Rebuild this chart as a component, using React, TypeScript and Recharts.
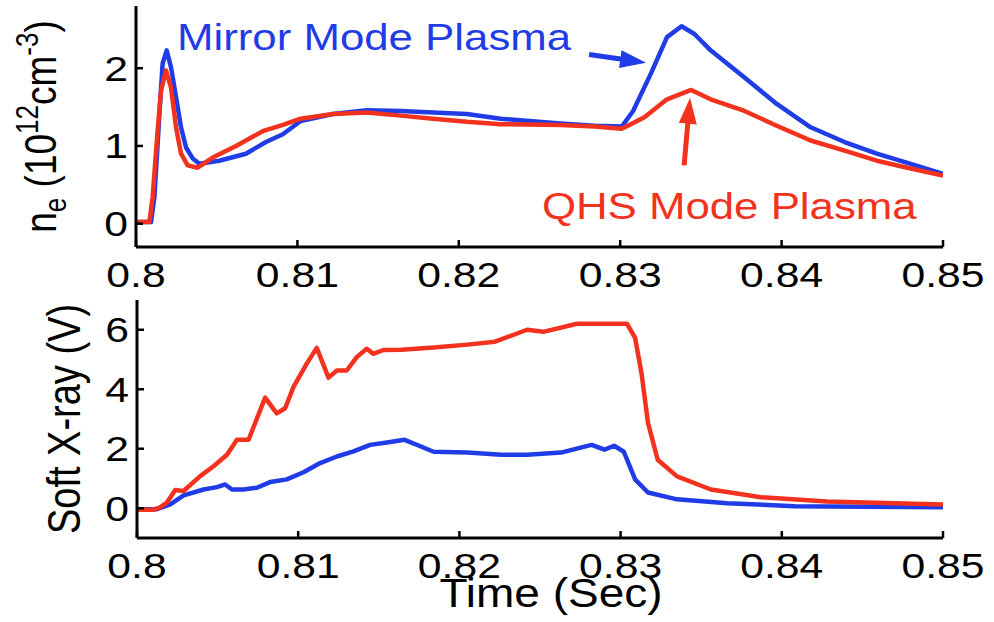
import React from "react";
import { LineChart, Line, XAxis, YAxis, ReferenceLine, ReferenceDot } from "recharts";

const FONT = "'Liberation Sans', Arial, Helvetica, sans-serif";
const BLUE = "#1f3ce6";
const RED = "#f2321e";

// time (s) ticks and value ticks
const timeTicks = [0.8, 0.81, 0.82, 0.83, 0.84, 0.85];
const neTicks = [0, 1, 2];
const sxrTicks = [0, 2, 4, 6];

// Electron density n_e (10^12 cm^-3): [time, value]
const neMirror: [number, number][] = [
  [0.8, 0.02], [0.80093, 0.02], [0.80114, 0.34], [0.80145, 1.41], [0.80165, 2.06], [0.8019, 2.23],
  [0.80217, 2.01], [0.80248, 1.63], [0.80279, 1.24], [0.8031, 0.98], [0.80351, 0.84], [0.80392, 0.77],
  [0.80516, 0.81], [0.80681, 0.9], [0.80805, 1.05], [0.8091, 1.15], [0.8102, 1.32],
  [0.8122, 1.41], [0.8143, 1.46], [0.8164, 1.45], [0.8184, 1.43], [0.8205, 1.41], [0.8226, 1.35],
  [0.8263, 1.29], [0.8284, 1.26], [0.8301, 1.25], [0.8308, 1.45], [0.8319, 1.93], [0.8329, 2.4],
  [0.8338, 2.54], [0.8346, 2.44], [0.8356, 2.23], [0.8377, 1.88], [0.8397, 1.54], [0.8418, 1.24],
  [0.8439, 1.05], [0.8459, 0.9], [0.848, 0.77], [0.85, 0.64],
];
const neQhs: [number, number][] = [
  [0.8, 0.02], [0.80083, 0.02], [0.80103, 0.34], [0.80134, 1.2], [0.80155, 1.71], [0.80186, 1.97],
  [0.80217, 1.75], [0.80248, 1.24], [0.80279, 0.9], [0.8032, 0.75], [0.80382, 0.72], [0.80475, 0.85],
  [0.8062, 1.0], [0.80785, 1.19], [0.8091, 1.27], [0.8102, 1.35],
  [0.8122, 1.41], [0.8143, 1.43], [0.8164, 1.39], [0.8184, 1.35], [0.8205, 1.31], [0.8226, 1.28],
  [0.8263, 1.27], [0.8284, 1.25], [0.8301, 1.22], [0.8315, 1.37], [0.8329, 1.6], [0.8344, 1.72],
  [0.8356, 1.6], [0.8377, 1.45], [0.8397, 1.26], [0.8418, 1.07], [0.8439, 0.94], [0.8459, 0.81],
  [0.848, 0.71], [0.85, 0.62],
];

// Soft X-ray (V): [time, value]
const sxrMirror: [number, number][] = [
  [0.8, -0.03], [0.80124, -0.03], [0.80207, 0.13], [0.80289, 0.43], [0.80413, 0.63], [0.80496, 0.71],
  [0.80547, 0.8], [0.80589, 0.63], [0.80661, 0.63], [0.80743, 0.69], [0.80826, 0.88], [0.80929, 0.97],
  [0.81033, 1.21], [0.81136, 1.52], [0.8124, 1.74], [0.81343, 1.91], [0.81446, 2.13], [0.8155, 2.21],
  [0.8166, 2.3], [0.8175, 2.1], [0.8184, 1.9], [0.8205, 1.87], [0.8226, 1.8], [0.8242, 1.8],
  [0.8263, 1.87], [0.8282, 2.13], [0.829, 1.97], [0.8296, 2.1], [0.8302, 1.9], [0.8309, 0.97],
  [0.8317, 0.53], [0.8335, 0.3], [0.8366, 0.17], [0.8408, 0.07], [0.85, 0.03],
];
const sxrQhs: [number, number][] = [
  [0.8, -0.05], [0.801, -0.05], [0.8014, 0.02], [0.80186, 0.19], [0.80237, 0.61], [0.80289, 0.58],
  [0.80392, 1.08], [0.80475, 1.41], [0.80558, 1.8], [0.8062, 2.3], [0.80692, 2.3], [0.80795, 3.72],
  [0.80867, 3.19], [0.80919, 3.36], [0.80971, 4.08], [0.81053, 4.86], [0.81115, 5.39], [0.81188, 4.39],
  [0.8124, 4.63], [0.81301, 4.63], [0.81363, 5.08], [0.81425, 5.36], [0.81466, 5.19], [0.81528, 5.32],
  [0.8164, 5.33], [0.8184, 5.4], [0.8205, 5.5], [0.8222, 5.6], [0.8242, 6.0], [0.8252, 5.93],
  [0.8273, 6.2], [0.8304, 6.2], [0.8309, 5.73], [0.8313, 4.53], [0.8317, 2.87], [0.8323, 1.63],
  [0.8335, 1.07], [0.8356, 0.63], [0.8387, 0.37], [0.8428, 0.23], [0.85, 0.13],
];

const toRows = (arr: [number, number][]) => arr.map(([t, v]) => ({ t, v }));

const StretchText = ({ x, y, sx = 1.22, size = 35, fill = "#000", anchor = "middle", children }: any) => (
  <g transform={`translate(${x},${y}) scale(${sx},1)`}>
    <text x={0} y={0} textAnchor={anchor} fontSize={size} fill={fill} fontFamily={FONT}>
      {children}
    </text>
  </g>
);

const BottomTick = (p: any) => (
  <g>
    <line x1={p.x} y1={p.y} x2={p.x} y2={p.y - 7} stroke="#000" strokeWidth={2.5} />
    <StretchText x={p.x} y={p.y + 40}>{String(p.payload.value)}</StretchText>
  </g>
);
const TopTick = (p: any) => (
  <line x1={p.x} y1={p.y} x2={p.x} y2={p.y + 7} stroke="#000" strokeWidth={2.5} />
);
const LeftTick = (p: any) => (
  <g>
    <line x1={p.x} y1={p.y} x2={p.x + 7} y2={p.y} stroke="#000" strokeWidth={2.5} />
    <StretchText x={p.x - 8} y={p.y + 12.5} anchor="end">{String(p.payload.value)}</StretchText>
  </g>
);
const RightTick = (p: any) => (
  <line x1={p.x} y1={p.y} x2={p.x - 7} y2={p.y} stroke="#000" strokeWidth={2.5} />
);

const Arrow = (p: any) => {
  const { x1, y1, x2, y2, stroke } = p;
  const dx = x2 - x1;
  const dy = y2 - y1;
  const len = Math.hypot(dx, dy) || 1;
  const ux = dx / len;
  const uy = dy / len;
  const hl = 26;
  const hw = 9;
  const bx = x2 - ux * hl;
  const by = y2 - uy * hl;
  const px = -uy;
  const py = ux;
  return (
    <g>
      <line x1={x1} y1={y1} x2={bx + ux * 2} y2={by + uy * 2} stroke={stroke} strokeWidth={5} />
      <polygon
        points={`${x2},${y2} ${bx + px * hw},${by + py * hw} ${bx - px * hw},${by - py * hw}`}
        fill={stroke}
      />
    </g>
  );
};

const axisLine = { stroke: "#000", strokeWidth: 3 };

const NeLabel = (props: any) => {
  const vb = props.viewBox || { x: 0, y: 6, width: 136, height: 241 };
  const cx = vb.x + 56;
  const cy = vb.y + vb.height / 2;
  return (
    <g transform={`translate(${cx},${cy}) scale(1.2,1) rotate(-90)`}>
      <text x={0} y={0} textAnchor="middle" fontSize={37} fontFamily={FONT} fill="#000">
        <tspan>n</tspan>
        <tspan fontSize={26} dy={8}>e</tspan>
        <tspan dy={-8}> (10</tspan>
        <tspan fontSize={26} dy={-15}>12</tspan>
        <tspan dy={15}>cm</tspan>
        <tspan fontSize={26} dy={-15}>-3</tspan>
        <tspan dy={15}>)</tspan>
      </text>
    </g>
  );
};

const SxrLabel = (props: any) => {
  const vb = props.viewBox || { x: 0, y: 10, width: 137, height: 238 };
  const cx = vb.x + 80;
  const cy = vb.y + vb.height / 2;
  return (
    <g transform={`translate(${cx},${cy}) scale(1.2,1) rotate(-90)`}>
      <text x={0} y={0} textAnchor="middle" fontSize={38} fontFamily={FONT} fill="#000">
        Soft X-ray (V)
      </text>
    </g>
  );
};

const TimeLabel = (props: any) => {
  const vb = props.viewBox || { x: 137, y: 248, width: 806, height: 84 };
  return (
    <StretchText x={vb.x + vb.width / 2 + 11} y={vb.y + 69} sx={1.15} size={40}>
      Time (Sec)
    </StretchText>
  );
};

export default function App() {
  return (
    <div style={{ position: "absolute", left: 0, top: 0, width: 994, height: 622, background: "#fff" }}>
      <div style={{ position: "absolute", left: 0, top: 0 }}>
        <LineChart width={994} height={290} margin={{ top: 6, right: 51, bottom: 0, left: 0 }}>
          <XAxis
            dataKey="t"
            type="number"
            domain={[0.8, 0.85]}
            ticks={timeTicks}
            allowDataOverflow
            interval={0}
            height={43}
            tickSize={0}
            tickMargin={0}
            axisLine={axisLine}
            tickLine={false}
            tick={(p: any) => <BottomTick {...p} />}
          />
          <XAxis
            xAxisId="top"
            orientation="top"
            dataKey="t"
            type="number"
            domain={[0.8, 0.85]}
            ticks={timeTicks}
            allowDataOverflow
            interval={0}
            height={0}
            tickSize={0}
            tickMargin={0}
            axisLine={axisLine}
            tickLine={false}
            tick={(p: any) => <TopTick {...p} />}
          />
          <YAxis
            type="number"
            domain={[-0.3, 2.8]}
            ticks={neTicks}
            allowDataOverflow
            interval={0}
            width={136}
            tickSize={0}
            tickMargin={0}
            axisLine={axisLine}
            tickLine={false}
            tick={(p: any) => <LeftTick {...p} />}
            label={{ content: (p: any) => <NeLabel {...p} /> }}
          />
          <YAxis
            yAxisId="right"
            orientation="right"
            type="number"
            domain={[-0.3, 2.8]}
            ticks={neTicks}
            allowDataOverflow
            interval={0}
            width={0}
            tickSize={0}
            tickMargin={0}
            axisLine={axisLine}
            tickLine={false}
            tick={(p: any) => <RightTick {...p} />}
          />
          <Line data={toRows(neMirror)} dataKey="v" stroke={BLUE} strokeWidth={4.5} strokeLinejoin="round" dot={false} isAnimationActive={false} />
          <Line data={toRows(neQhs)} dataKey="v" stroke={RED} strokeWidth={4.5} strokeLinejoin="round" dot={false} isAnimationActive={false} />
          <ReferenceLine
            segment={[{ x: 0.82807, y: 2.175 }, { x: 0.8316, y: 2.07 }]}
            stroke={BLUE}
            ifOverflow="visible"
            shape={(p: any) => <Arrow {...p} stroke={BLUE} />}
          />
          <ReferenceLine
            segment={[{ x: 0.83396, y: 0.75 }, { x: 0.83433, y: 1.62 }]}
            stroke={RED}
            ifOverflow="visible"
            shape={(p: any) => <Arrow {...p} stroke={RED} />}
          />
          <ReferenceDot
            x={0.80254}
            y={2.24}
            ifOverflow="visible"
            shape={(p: any) => (
              <StretchText x={p.cx} y={p.cy} anchor="start" size={36.5} sx={1.2} fill={BLUE}>
                Mirror Mode Plasma
              </StretchText>
            )}
          />
          <ReferenceDot
            x={0.82515}
            y={0.064}
            ifOverflow="visible"
            shape={(p: any) => (
              <StretchText x={p.cx} y={p.cy} anchor="start" size={36.5} sx={1.2} fill={RED}>
                QHS Mode Plasma
              </StretchText>
            )}
          />
        </LineChart>
      </div>
      <div style={{ position: "absolute", left: 0, top: 290 }}>
        <LineChart width={994} height={332} margin={{ top: 10, right: 51, bottom: 0, left: 0 }}>
          <XAxis
            dataKey="t"
            type="number"
            domain={[0.8, 0.85]}
            ticks={timeTicks}
            allowDataOverflow
            interval={0}
            height={84}
            tickSize={0}
            tickMargin={0}
            axisLine={axisLine}
            tickLine={false}
            tick={(p: any) => <BottomTick {...p} />}
            label={{ content: (p: any) => <TimeLabel {...p} /> }}
          />
          <XAxis
            xAxisId="top"
            orientation="top"
            dataKey="t"
            type="number"
            domain={[0.8, 0.85]}
            ticks={timeTicks}
            allowDataOverflow
            interval={0}
            height={0}
            tickSize={0}
            tickMargin={0}
            axisLine={axisLine}
            tickLine={false}
            tick={(p: any) => <TopTick {...p} />}
          />
          <YAxis
            type="number"
            domain={[-1, 7]}
            ticks={sxrTicks}
            allowDataOverflow
            interval={0}
            width={137}
            tickSize={0}
            tickMargin={0}
            axisLine={axisLine}
            tickLine={false}
            tick={(p: any) => <LeftTick {...p} />}
            label={{ content: (p: any) => <SxrLabel {...p} /> }}
          />
          <YAxis
            yAxisId="right"
            orientation="right"
            type="number"
            domain={[-1, 7]}
            ticks={sxrTicks}
            allowDataOverflow
            interval={0}
            width={0}
            tickSize={0}
            tickMargin={0}
            axisLine={axisLine}
            tickLine={false}
            tick={(p: any) => <RightTick {...p} />}
          />
          <Line data={toRows(sxrMirror)} dataKey="v" stroke={BLUE} strokeWidth={4.5} strokeLinejoin="round" dot={false} isAnimationActive={false} />
          <Line data={toRows(sxrQhs)} dataKey="v" stroke={RED} strokeWidth={4.5} strokeLinejoin="round" dot={false} isAnimationActive={false} />
        </LineChart>
      </div>
    </div>
  );
}
